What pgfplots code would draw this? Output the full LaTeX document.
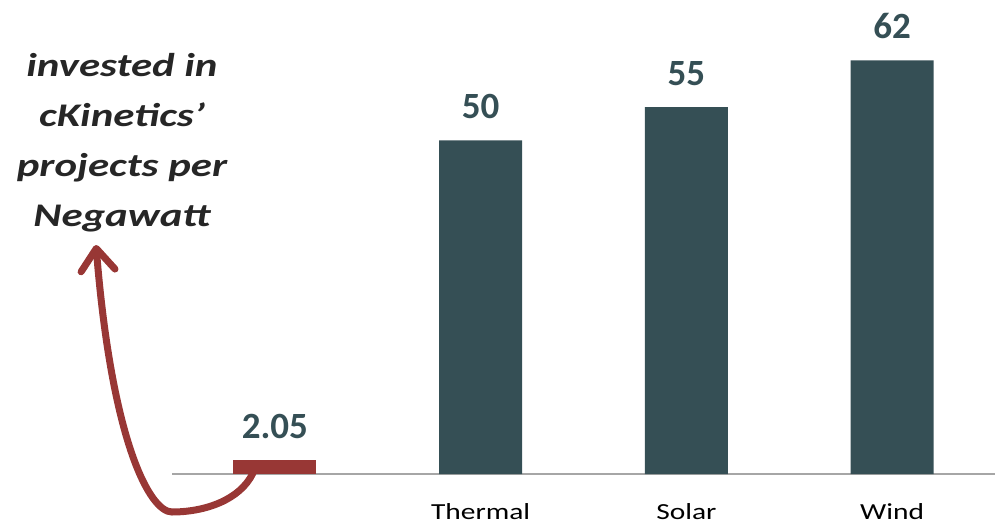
\documentclass[border=0pt]{standalone}
\usepackage{pgfplots}
\pgfplotsset{compat=1.18}
\usepackage{fontspec}
\setmainfont{Carlito}
\newfontfamily\stretchA[FakeStretch=1.3]{Carlito}
\newfontfamily\stretchB[FakeStretch=1.28]{Carlito}
\usetikzlibrary{arrows.meta}
\definecolor{slate}{HTML}{354F55}
\definecolor{brick}{HTML}{983735}
\definecolor{basegray}{HTML}{A6A6A6}
\definecolor{txt}{HTML}{262626}
\begin{document}
\begin{tikzpicture}[x=1pt,y=1pt]
\path[use as bounding box] (0,0) rectangle (996,523);
\begin{axis}[at={(172pt,49pt)}, anchor=south west, scale only axis,
  width=823pt, height=467pt,
  xmin=-0.5, xmax=3.5, ymin=0, ymax=70,
  axis x line=bottom, axis y line=none,
  axis line style={basegray, line width=1.6pt, -},
  xtick={1,2,3}, xticklabels={Thermal,Solar,Wind}, major tick length=0pt,
  xticklabel style={font=\stretchB\fontsize{23}{28}\selectfont, text=black, anchor=base, yshift=-45pt},
  ybar, bar width=83pt,
  point meta=explicit symbolic,
  nodes near coords={\pgfplotspointmeta},
  every node near coord/.append style={font=\bfseries\fontsize{37}{44}\selectfont, text=slate, anchor=base, yshift=22pt},
  clip=false]
\addplot[fill=brick, draw=none, bar shift=0pt] coordinates {(0,2.05) [2.05]};
\addplot[fill=slate, draw=none, bar shift=0pt] coordinates {(1,50) [50] (2,55) [55] (3,62) [62]};
\end{axis}
\draw[brick, line width=7pt, line cap=round, -{Straight Barb[length=22pt, width=34pt, line width=7pt, round]}]
  (253,50) .. controls (240,23) and (205,11) .. (172,11)
  .. controls (150,11) and (112,80) .. (96,278);
\begin{scope}[every node/.style={anchor=base, inner sep=0pt, text=txt, font=\stretchA\bfseries\itshape\fontsize{33}{40}\selectfont}]
\node at (122,446) {invested in};
\node at (122,396) {cKinetics’};
\node at (122,346) {projects per};
\node at (122,296) {Negawatt};
\end{scope}
\end{tikzpicture}
\end{document}
